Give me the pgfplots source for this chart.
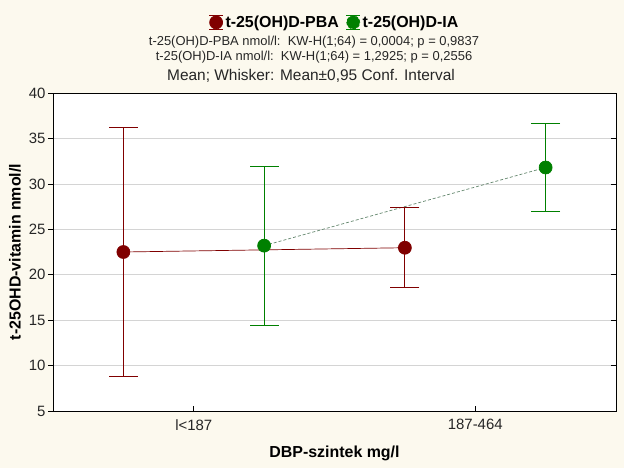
\documentclass[border=0pt]{standalone}
\usepackage{pgfplots}
\pgfplotsset{compat=1.18}
\usepackage{fontspec}
\setmainfont{Liberation Sans}
\definecolor{bgcream}{RGB}{252,249,238}
\definecolor{pba}{RGB}{128,0,0}
\definecolor{ia}{RGB}{0,128,0}
\definecolor{iadash}{RGB}{100,135,110}
\definecolor{gridc}{RGB}{212,212,212}
\pgfplotstableread{
x y e
-0.25 22.5 13.7
0.75 22.97 4.4
}\pba
\pgfplotstableread{
x y e
0.25 23.2 8.75
1.25 31.8 4.85
}\ia
\pgfplotstableread{
x y
-0.25 36.2
-0.25 8.8
0.75 27.37
0.75 18.57
}\pbacaps
\pgfplotstableread{
x y
0.25 31.95
0.25 14.45
1.25 36.65
1.25 26.95
}\iacaps
\begin{document}
\begin{tikzpicture}
\path[use as bounding box, fill=bgcream] (0,0) rectangle (624bp,468bp);
\begin{axis}[
  at={(53bp,57bp)}, anchor=south west,
  scale only axis, width=563bp, height=318bp,
  axis background/.style={fill=white},
  xmin=-0.5, xmax=1.5, ymin=5, ymax=40,
  xtick={0,1}, xticklabels={l<187,187-464},
  ytick={5,10,...,40},
  xtick pos=bottom, ytick pos=left,
  xtick align=inside, ytick align=outside,
  major tick length=5bp,
  ymajorgrids, grid style={gridc, line width=0.6pt},
  axis line style={black, line width=0.8pt},
  tick style={black, line width=0.6pt},
  /pgf/number format/assume math mode=true,
  tick label style={font=\fontsize{15}{17}\selectfont, color=black!85},
  xticklabel style={yshift=-5bp},
  yticklabel style={xshift=1bp},
  xlabel={\textbf{DBP-szintek mg/l}},
  ylabel={\textbf{t-25OHD-vitamin nmol/l}},
  label style={font=\fontsize{16}{18}\selectfont},
  xlabel style={yshift=-9bp},
  ylabel style={yshift=1bp},
  legend style={at={(0.5,1.222)}, anchor=center, draw=none, fill=none,
    legend columns=2, font=\fontsize{16}{18}\selectfont\bfseries,
    inner xsep=0pt,
    /tikz/every even column/.append style={column sep=5bp}},
  legend cell align=left,
]
\addplot[pba, line width=0.7pt, mark=*, mark size=6.5bp, mark options={solid, fill=pba},
  legend image code/.code={
    \draw[pba, line width=0.8pt] (2bp,7bp)--(16bp,7bp) (9bp,7bp)--(9bp,-7bp) (2bp,-7bp)--(16bp,-7bp);
    \fill[pba] (9bp,0bp) circle (6.5bp);},
  error bars/.cd, y dir=both, y explicit, error mark=none,
  error bar style={line width=0.8pt, pba}]
  table[x=x, y=y, y error=e] {\pba};
\addlegendentry{t-25(OH)D-PBA}
\addplot[iadash, line width=0.7pt, dash pattern=on 3bp off 2bp, mark=*, mark size=6.5bp, mark options={solid, fill=ia, draw=ia},
  legend image code/.code={
    \draw[ia, line width=0.8pt, solid] (2bp,7bp)--(16bp,7bp) (9bp,7bp)--(9bp,-7bp) (2bp,-7bp)--(16bp,-7bp);
    \fill[ia] (9bp,0bp) circle (6.5bp);},
  error bars/.cd, y dir=both, y explicit, error mark=none,
  error bar style={line width=0.8pt, ia, solid}]
  table[x=x, y=y, y error=e] {\ia};
\addlegendentry{t-25(OH)D-IA}
\addplot[pba, only marks, mark=-, mark size=14.5bp, line width=0.8pt, mark options={pba, line width=0.8pt}, forget plot] table[x=x,y=y] {\pbacaps};
\addplot[ia, only marks, mark=-, mark size=14.5bp, line width=0.8pt, mark options={ia, line width=0.8pt}, forget plot] table[x=x,y=y] {\iacaps};
\end{axis}
\begin{axis}[
  at={(53bp,57bp)}, anchor=south west,
  scale only axis, width=563bp, height=318bp,
  xmin=-0.5, xmax=1.5, ymin=5, ymax=40,
  ytick={5,10,...,40}, xtick=\empty,
  ytick pos=right, ytick align=inside, yticklabels={},
  major tick length=5bp,
  axis line style={draw=none},
  tick style={black, line width=0.6pt},
]
\end{axis}
\node[font=\fontsize{13}{15}\selectfont, color=black!85] at (314bp,426bp) {t-25(OH)D-PBA nmol/l:\ \ KW-H(1;64) = 0,0004; p = 0,9837};
\node[font=\fontsize{13}{15}\selectfont, color=black!85] at (314bp,411bp) {t-25(OH)D-IA nmol/l:\ \ KW-H(1;64) = 1,2925; p = 0,2556};
\node[font=\fontsize{15.5}{17}\selectfont, color=black!85] at (311bp,392bp) {Mean; Whisker: Mean\textpm0,95 Conf. Interval};
\end{tikzpicture}
\end{document}
